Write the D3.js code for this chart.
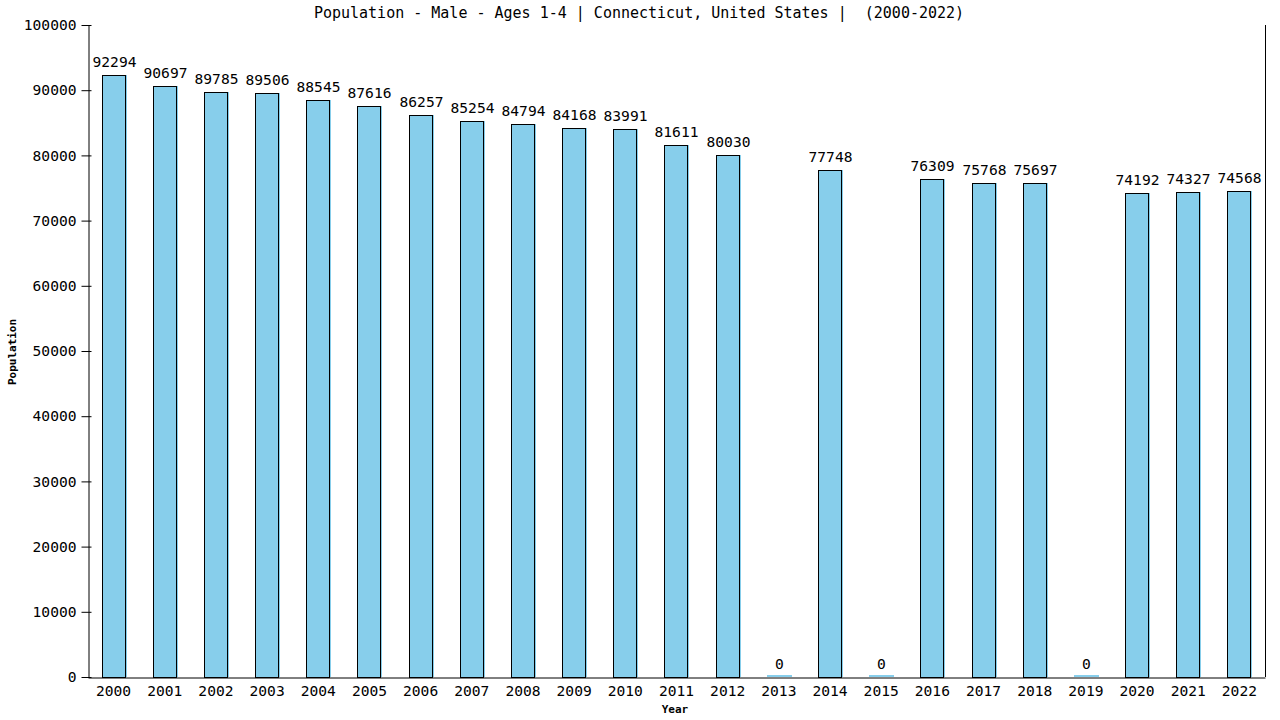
<!DOCTYPE html>
<html><head><meta charset="utf-8">
<script src="https://cdn.jsdelivr.net/npm/d3@7"></script>
<style>
html,body{margin:0;padding:0;background:#fff;}
text{font-family:"DejaVu Sans Mono",monospace;fill:#000;}
</style></head>
<body><svg id="c" width="1280" height="720"></svg>
<script>
const years = ["2000","2001","2002","2003","2004","2005","2006","2007","2008","2009","2010","2011","2012","2013","2014","2015","2016","2017","2018","2019","2020","2021","2022"];
const values = [92294,90697,89785,89506,88545,87616,86257,85254,84794,84168,83991,81611,80030,0,77748,0,76309,75768,75697,0,74192,74327,74568];
const yTicks = [0,10000,20000,30000,40000,50000,60000,70000,80000,90000,100000];
const titleText = "Population - Male - Ages 1-4 | Connecticut, United States |  (2000-2022)";

const svg = d3.select("#c");
const L = 88, R = 1265, T = 25, B = 677;
const x = d3.scaleBand().domain(years).range([L, R]).paddingInner(0.53).paddingOuter(0.265);
const y = d3.scaleLinear().domain([0, 100000]).range([B, T]);

svg.append("text").attr("x", 639).attr("y", 18).attr("text-anchor","middle")
  .attr("xml:space","preserve").style("white-space","pre")
  .style("font-size","15px").text(titleText);

// bars
const g = svg.append("g");
years.forEach((yr,i)=>{
  const v = values[i];
  const bx = Math.round(x(yr)), bw = Math.round(x.bandwidth());
  const top = Math.round(y(v));
  g.append("rect").attr("x", bx).attr("y", v>0? top : B-2).attr("width", bw+1)
    .attr("height", v>0 ? B-top : 2).attr("fill","#87CEEB");
  if (v>0) {
    g.append("rect").attr("x", bx+0.5).attr("y", top+0.5).attr("width", bw-1)
      .attr("height", B-top).attr("fill","none").attr("stroke","#000").attr("stroke-width",1);
  }
  g.append("text").attr("x", bx + bw/2 + 0.5).attr("y", (v>0?top:B) - 8)
    .attr("text-anchor","middle").style("font-size","14.6px").text(v);
});

// left axis
const ya = d3.axisLeft(y).tickValues(yTicks).tickSizeInner(7).tickSizeOuter(0).tickPadding(5).tickFormat(d=>d);
const ag = svg.append("g").attr("transform",`translate(${L+0.5},0)`).call(ya);
ag.selectAll("text").style("font-size","14.6px").style("font-family","DejaVu Sans Mono");
ag.selectAll(".tick line").attr("x2",-7).attr("x1",3);
ag.select(".domain").attr("stroke","#000");
ag.selectAll("line").attr("stroke","#000");

// bottom axis
const xa = d3.axisBottom(x).tickSize(0).tickPadding(8);
const xg = svg.append("g").attr("transform",`translate(0,${B+0.5})`).call(xa);
xg.selectAll("text").style("font-size","14.6px").style("font-family","DejaVu Sans Mono").attr("dy","0.71em");
xg.select(".domain").attr("stroke","#000");

// right border
svg.append("line").attr("x1",R+0.5).attr("x2",R+0.5).attr("y1",T).attr("y2",B).attr("stroke","#000");

// axis titles
svg.append("text").attr("x", 675).attr("y", 713).attr("text-anchor","middle")
  .style("font-size","11px").style("font-weight","bold").text("Year");
svg.append("text").attr("transform","translate(16,352) rotate(-90)").attr("text-anchor","middle")
  .style("font-size","11px").style("font-weight","bold").text("Population");
</script></body></html>
